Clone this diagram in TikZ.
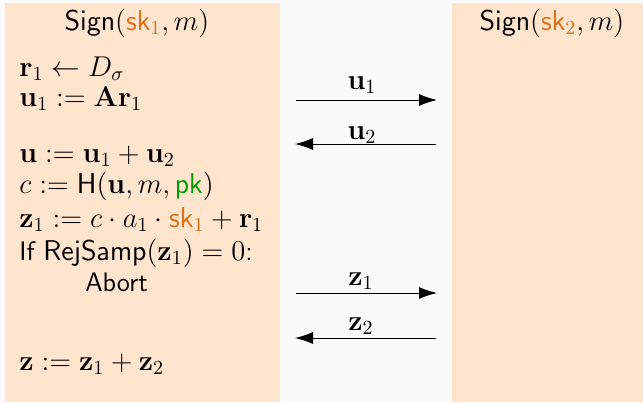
\RequirePackage{fix-cm}
\documentclass[tikz,border=0pt]{standalone}
\usepackage{amsmath}
\usetikzlibrary{arrows.meta}

\definecolor{peach}{RGB}{255,228,206}
\definecolor{bggray}{RGB}{250,250,250}
\definecolor{skorange}{RGB}{228,112,22}
\definecolor{pkgreen}{RGB}{0,158,0}

\DeclareMathSizes{13.4}{14.3}{10}{7.5}

\newcommand{\skey}[1]{{\color{skorange}\mathsf{sk}_{#1}}}
\newcommand{\pkey}{{\color{pkgreen}\mathsf{pk}}}

\begin{document}
\begin{tikzpicture}
    [>={Latex[length=9pt, width=6pt]},
    x=0.5pt, y=-0.5pt,
    font=\fontsize{13.4}{17}\selectfont\sffamily,
    every node/.style={inner sep=0pt},
    zeile/.style={anchor=base west},
    titel/.style={anchor=base},
    msg/.style={->, line width=0.5pt}]

    % Hintergrund und Spalten
    \fill[bggray] (0,0) rectangle (643,402);
    \fill[peach] (5,3) rectangle (280,402);
    \fill[peach] (452,3) rectangle (643,402);

    \node[titel] (signA) at (137,30) {$\mathsf{Sign}(\skey{1}, m)$};
    \node[titel] (signB) at (552,30) {$\mathsf{Sign}(\skey{2}, m)$};

    \node[zeile] (r1)    at (19,76)  {$\mathbf{r}_1 \leftarrow D_\sigma$};
    \node[zeile] (u1)    at (19,106) {$\mathbf{u}_1 := \mathbf{A}\mathbf{r}_1$};
    \node[zeile] (u)     at (19,162) {$\mathbf{u} := \mathbf{u}_1 + \mathbf{u}_2$};
    \node[zeile] (c)     at (19,193) {$c := \mathsf{H}(\mathbf{u}, m, \pkey)$};
    \node[zeile] (z1)    at (19,227) {$\mathbf{z}_1 := c \cdot a_1 \cdot \skey{1} + \mathbf{r}_1$};
    \node[zeile] (rej)   at (19,260) {If $\mathsf{RejSamp}(\mathbf{z}_1) = 0$:};
    \node[zeile] (abort) at (85,291) {Abort};
    \node[zeile] (z)     at (19,370) {$\mathbf{z} := \mathbf{z}_1 + \mathbf{z}_2$};

    % Nachrichten
    \coordinate (ua) at (296,100); \coordinate (ub) at (437,100);
    \coordinate (va) at (295,144); \coordinate (vb) at (436,144);
    \coordinate (za) at (296,293); \coordinate (zb) at (437,293);
    \coordinate (wa) at (295,338); \coordinate (wb) at (436,338);

    \draw[msg] (ua) -- (ub);
    \draw[msg] (vb) -- (va);
    \draw[msg] (za) -- (zb);
    \draw[msg] (wb) -- (wa);

    \node[titel] (lu1) at (362,89)  {$\mathbf{u}_1$};
    \node[titel] (lu2) at (362,139) {$\mathbf{u}_2$};
    \node[titel] (lz1) at (361,285) {$\mathbf{z}_1$};
    \node[titel] (lz2) at (361,330) {$\mathbf{z}_2$};
\end{tikzpicture}
\end{document}
